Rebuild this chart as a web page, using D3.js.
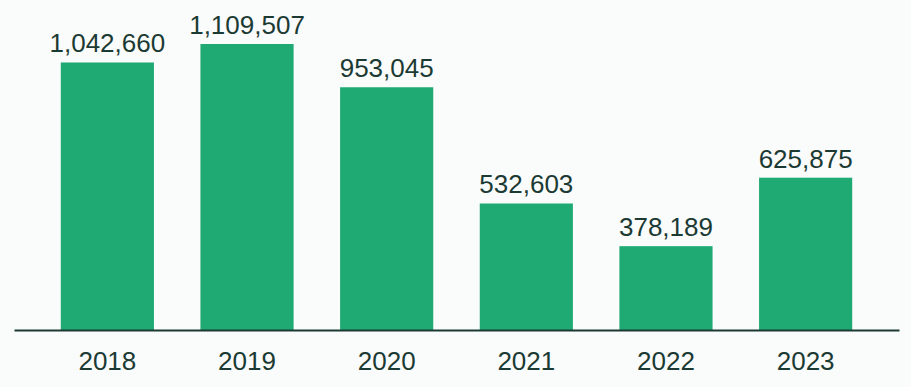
<!DOCTYPE html>
<html>
<head>
<meta charset="utf-8">
<script src="https://cdn.jsdelivr.net/npm/d3@7"></script>
<style>
  html, body { margin: 0; padding: 0; background: #fafbfb; }
  svg { display: block; }
  text { font-family: "Liberation Sans", Arial, sans-serif; fill: #1b3a33; }
</style>
</head>
<body>
<svg id="chart" width="911" height="387"></svg>
<script>
const years = ['2018', '2019', '2020', '2021', '2022', '2023'];
const values = [1042660, 1109507, 953045, 532603, 378189, 625875];

const width = 911;
const height = 387;
const baseline = 330;

const svg = d3.select('#chart');

const x = d3.scaleBand()
  .domain(years)
  .range([14, 899])
  .paddingInner(0.333)
  .paddingOuter(0.335);

// axis floor sits above zero, as in the source
const y = d3.scaleLinear()
  .domain([75000, d3.max(values)])
  .range([baseline, 44]);

const data = years.map((year, i) => ({ year, value: values[i] }));

svg.append('g')
  .selectAll('rect')
  .data(data)
  .join('rect')
    .attr('x', d => x(d.year))
    .attr('y', d => y(d.value))
    .attr('width', x.bandwidth())
    .attr('height', d => baseline - y(d.value))
    .attr('fill', '#1eaa72');

svg.append('g')
  .selectAll('text')
  .data(data)
  .join('text')
    .attr('x', d => x(d.year) + x.bandwidth() / 2)
    .attr('y', d => y(d.value) - 10)
    .attr('text-anchor', 'middle')
    .attr('font-size', 26)
    .text(d => d3.format(',')(d.value));

const axis = svg.append('g')
  .attr('transform', `translate(0,${baseline})`)
  .call(d3.axisBottom(x).tickSize(0).tickPadding(28));

axis.select('.domain')
  .attr('stroke', '#1b3a33')
  .attr('stroke-width', 2);

axis.selectAll('text')
  .attr('font-size', 26)
  .attr('dy', '0')
  .attr('y', 40);
</script>
</body>
</html>
